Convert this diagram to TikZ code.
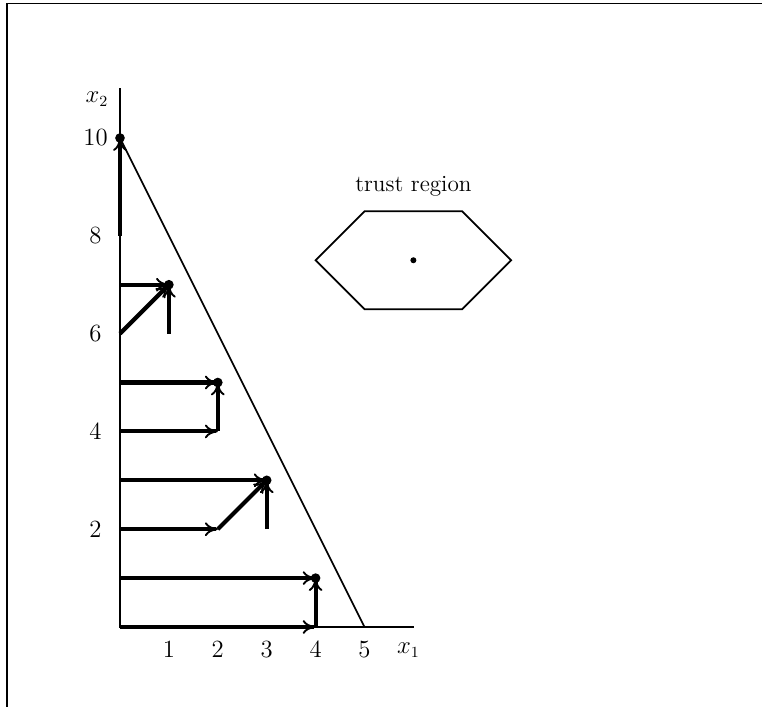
\documentclass[tikz,border=0pt]{standalone}
\usetikzlibrary{arrows.meta}
\begin{document}
\begin{tikzpicture}[x=1cm,y=1cm,
  axis/.style={line width=1pt},
  move/.style={line width=2.4pt,-{To[length=7.5pt,width=8pt,line width=1.1pt]}},
  lbl/.style={inner sep=0pt,font=\fontsize{13.5}{16}\selectfont},
  opt/.style={circle,fill=black,inner sep=0pt,minimum size=5.6pt},
  frameline/.style={line width=0.6pt}]
\useasboundingbox (-2.454,-1.616) rectangle (13.129,12.822);
% frame (cropped)
\coordinate (fTL) at (-2.311,12.76);
\coordinate (fTR) at (13.2,12.76);
\coordinate (fBL) at (-2.311,-1.7);
\draw[frameline] (fBL) -- (fTL) -- (fTR);
% axes
\coordinate (O) at (0,0);
\coordinate (xend) at (6,0);
\coordinate (yend) at (0,11);
\draw[axis,line cap=rect] (yend) -- (O) -- (xend);
% constraint line
\coordinate (c1) at (0,10);
\coordinate (c2) at (5,0);
\draw[axis] (c1) -- (c2);
% labels
\node[lbl] (lx1) at (5.9,-0.47) {$x_1$};
\node[lbl] (lx2) at (-0.47,10.8) {$x_2$};
\foreach \i in {1,...,5} \node[lbl] (tx\i) at (\i,-0.47) {$\i$};
\foreach \i in {2,4,6,8,10} \node[lbl] (ty\i) at (-0.5,\i) {$\i$};
% points
\foreach \x/\y in {0/0,0/1,4/0,4/1,0/2,2/2,3/2,0/3,3/3,0/4,2/4,0/5,2/5,0/6,1/6,0/7,1/7,0/8,0/10}
  \coordinate (p\x\y) at (\x,\y);
% moves
\draw[move] (p00) -- (p40);
\draw[move] (p40) -- (p41);
\draw[move] (p01) -- (p41);
\draw[move] (p02) -- (p22);
\draw[move] (p22) -- (p33);
\draw[move] (p03) -- (p33);
\draw[move] (p32) -- (p33);
\draw[move] (p04) -- (p24);
\draw[move] (p24) -- (p25);
\draw[move] (p05) -- (p25);
\draw[move] (p06) -- (p17);
\draw[move] (p07) -- (p17);
\draw[move] (p16) -- (p17);
\draw[move] (p08) -- (p010);
% optima
\node[opt] (d1) at (p41) {};
\node[opt] (d2) at (p33) {};
\node[opt] (d3) at (p25) {};
\node[opt] (d4) at (p17) {};
\node[opt] (d5) at (p010) {};
% trust region
\coordinate (h1) at (4,7.5);
\coordinate (h2) at (5,8.5);
\coordinate (h3) at (7,8.5);
\coordinate (h4) at (8,7.5);
\coordinate (h5) at (7,6.5);
\coordinate (h6) at (5,6.5);
\draw[axis,line join=miter] (h1) -- (h2) -- (h3) -- (h4) -- (h5) -- (h6) -- cycle;
\node[circle,fill=black,inner sep=0pt,minimum size=3.5pt] (tc) at (6,7.5) {};
\node[lbl] (tr) at (6,9.02) {trust region};
\end{tikzpicture}
\end{document}
